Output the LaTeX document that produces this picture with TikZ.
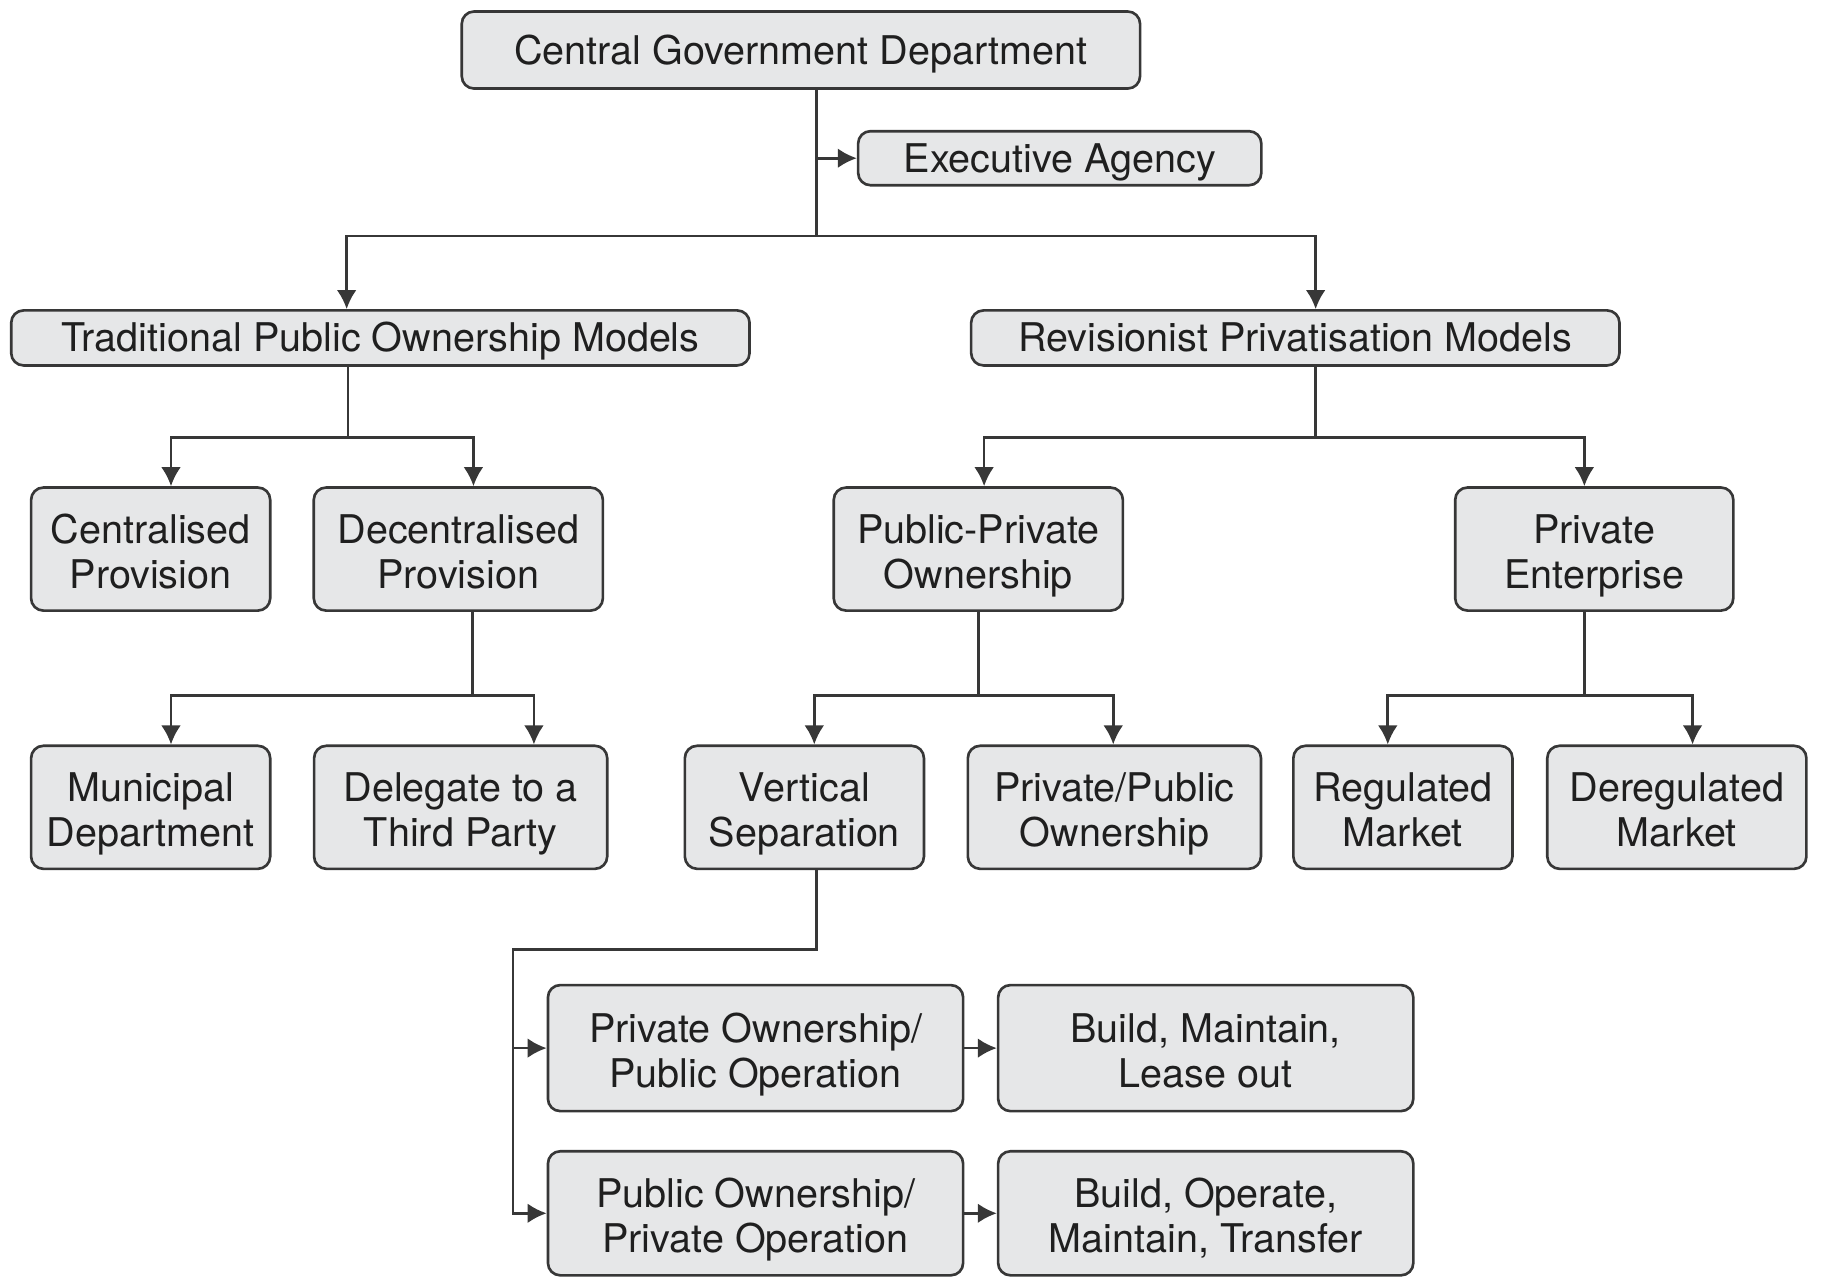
\documentclass[tikz,border=0pt]{standalone}
\usepackage{fontspec}
\setmainfont{TeX Gyre Heros}
\usetikzlibrary{arrows.meta}
\definecolor{boxfill}{RGB}{230,231,232}
\definecolor{boxline}{RGB}{55,55,55}
\newcommand{\boxlines}[1]{\begin{tabular}{@{}c@{}}\rule{0pt}{13.6pt}#1\end{tabular}}
\tikzset{
  box/.style 2 args={draw=boxline, fill=boxfill, rounded corners=3.5pt, line width=0.75pt,
    minimum width=#1, minimum height=#2, inner sep=0pt, text=black!88,
    font=\fontsize{11.25}{12.8}\selectfont},
  oneline/.style={text height=9pt, text depth=1pt},
}
\begin{document}
\begin{tikzpicture}[x=0.011633cm, y=-0.011633cm, line width=0.75pt, draw=boxline,
  >={Latex[length=5.4pt,width=5.6pt]}]
\useasboundingbox (0,0) rectangle (1568,1097);
% boxes
\node[box={6.78cm}{0.77cm}, oneline] (cgd) at (688.5,43) {Central Government Department};
\node[box={4.03cm}{0.54cm}, oneline] (exec) at (911,136) {Executive Agency};
\node[box={7.38cm}{0.55cm}, oneline] (trad) at (327,290.5) {Traditional Public Ownership Models};
\node[box={6.48cm}{0.55cm}, oneline] (rev) at (1113.5,290.5) {Revisionist Privatisation Models};
\node[box={2.39cm}{1.23cm}] (cent) at (129.5,472) {\boxlines{Centralised\\Provision}};
\node[box={2.89cm}{1.23cm}] (decent) at (394,472) {\boxlines{Decentralised\\Provision}};
\node[box={2.89cm}{1.23cm}] (ppo) at (841,472) {\boxlines{Public-Private\\Ownership}};
\node[box={2.78cm}{1.23cm}] (priv) at (1370.5,472) {\boxlines{Private\\Enterprise}};
\node[box={2.39cm}{1.23cm}] (muni) at (129.5,694) {\boxlines{Municipal\\Department}};
\node[box={2.93cm}{1.23cm}] (deleg) at (396,694) {\boxlines{Delegate to a\\Third Party}};
\node[box={2.39cm}{1.23cm}] (vert) at (691.5,694) {\boxlines{Vertical\\Separation}};
\node[box={2.93cm}{1.23cm}] (ppown) at (958,694) {\boxlines{Private/Public\\Ownership}};
\node[box={2.19cm}{1.23cm}] (reg) at (1206,694) {\boxlines{Regulated\\Market}};
\node[box={2.59cm}{1.23cm}] (dereg) at (1441.5,694) {\boxlines{Deregulated\\Market}};
\node[box={4.15cm}{1.26cm}] (poPub) at (649.5,901) {\boxlines{Private Ownership/\\Public Operation}};
\node[box={4.15cm}{1.26cm}] (bml) at (1036.5,901) {\boxlines{Build, Maintain,\\Lease out}};
\node[box={4.15cm}{1.24cm}] (puPriv) at (649.5,1043) {\boxlines{Public Ownership/\\Private Operation}};
\node[box={4.15cm}{1.24cm}] (bomt) at (1036.5,1043) {\boxlines{Build, Operate,\\Maintain, Transfer}};
% junctions
\coordinate (jTop) at (702,203);
\coordinate (dTrad) at (298,203);
\coordinate (dRev) at (1131,203);
\coordinate (jTrad) at (299,376);
\coordinate (dCent) at (147,376);
\coordinate (dDecent) at (407,376);
\coordinate (jRev) at (1131,376);
\coordinate (dPpo) at (846,376);
\coordinate (dPriv) at (1362,376);
\coordinate (jDecent) at (406,598);
\coordinate (dMuni) at (147,598);
\coordinate (dDeleg) at (459,598);
\coordinate (jPpo) at (841,598);
\coordinate (dVert) at (700,598);
\coordinate (dPpown) at (957,598);
\coordinate (jPriv) at (1362,598);
\coordinate (dReg) at (1193,598);
\coordinate (dDereg) at (1455,598);
\coordinate (jVert) at (702,816);
\coordinate (jSide) at (441,816);
% connectors
\draw (cgd.south -| jTop) -- (jTop);
\draw[->] (jTop |- exec.west) -- (exec.west);
\draw[->] (jTop) -- (dTrad) -- (dTrad |- trad.north);
\draw[->] (jTop) -- (dRev) -- (dRev |- rev.north);
\draw (trad.south -| jTrad) -- (jTrad);
\draw[->] (jTrad) -- (dCent) -- (dCent |- cent.north);
\draw[->] (jTrad) -- (dDecent) -- (dDecent |- decent.north);
\draw (rev.south -| jRev) -- (jRev);
\draw[->] (jRev) -- (dPpo) -- (dPpo |- ppo.north);
\draw[->] (jRev) -- (dPriv) -- (dPriv |- priv.north);
\draw (decent.south -| jDecent) -- (jDecent);
\draw[->] (jDecent) -- (dMuni) -- (dMuni |- muni.north);
\draw[->] (jDecent) -- (dDeleg) -- (dDeleg |- deleg.north);
\draw (ppo.south -| jPpo) -- (jPpo);
\draw[->] (jPpo) -- (dVert) -- (dVert |- vert.north);
\draw[->] (jPpo) -- (dPpown) -- (dPpown |- ppown.north);
\draw (priv.south -| jPriv) -- (jPriv);
\draw[->] (jPriv) -- (dReg) -- (dReg |- reg.north);
\draw[->] (jPriv) -- (dDereg) -- (dDereg |- dereg.north);
\draw[->] (vert.south -| jVert) -- (jVert) -- (jSide) |- (puPriv.west);
\draw[->] (jSide |- poPub.west) -- (poPub.west);
\draw[->] (poPub) -- (bml);
\draw[->] (puPriv) -- (bomt);
\end{tikzpicture}
\end{document}
